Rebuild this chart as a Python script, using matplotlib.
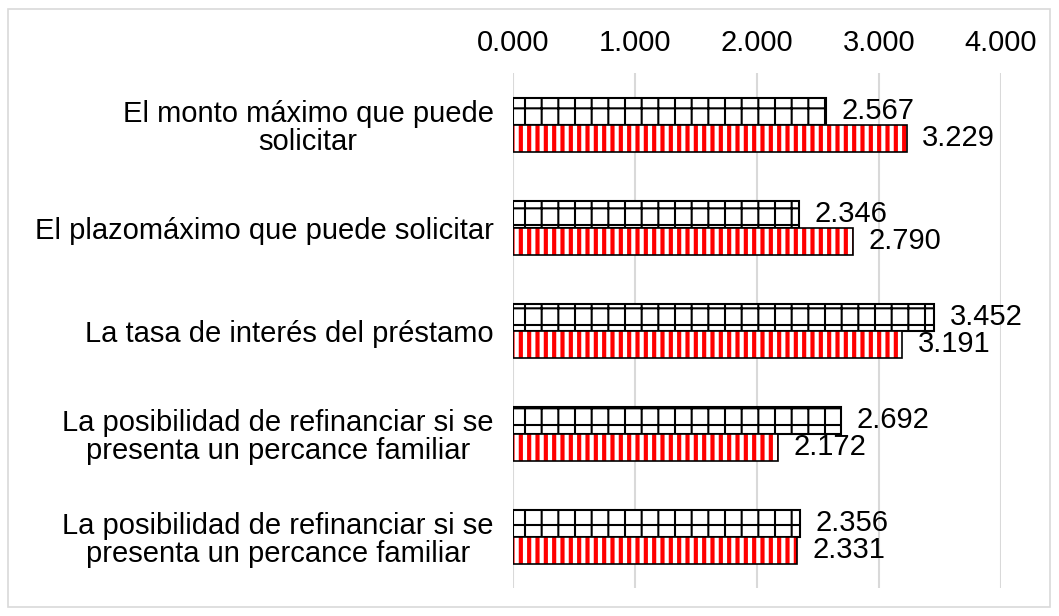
import numpy as np
import matplotlib.pyplot as plt
from matplotlib.patches import Rectangle

plt.rcParams['font.family'] = ['Liberation Sans', 'DejaVu Sans']
plt.rcParams['hatch.linewidth'] = 1.5

# data
categories = [
    "El monto máximo que puede\nsolicitar",
    "El plazomáximo que puede solicitar",
    "La tasa de interés del préstamo",
    "La posibilidad de refinanciar si se\npresenta un percance familiar",
    "La posibilidad de refinanciar si se\npresenta un percance familiar",
]
serie_a = [2.567, 2.346, 3.452, 2.692, 2.356]   # black grid bars
serie_b = [3.229, 2.790, 3.191, 2.172, 2.331]   # red striped bars
xticks = [0, 1, 2, 3, 4]

fig = plt.figure(figsize=(10.59, 6.16), dpi=100)
ax = fig.add_axes([0.4844, 0.045, 0.4608, 0.836])

y = np.arange(len(categories))
h = 0.26
fs = 21

# black grid bars
ax.barh(y - h / 2, serie_a, height=h, color='white', edgecolor='black',
        hatch='+', linewidth=1.5, zorder=3)
# red striped bars: stripes first, then the black outline
with plt.rc_context({'hatch.linewidth': 3.0}):
    red = ax.barh(y + h / 2, serie_b, height=h, color='white', edgecolor='red',
                  hatch='||', linewidth=0, zorder=3)
for p in red:
    if hasattr(p, 'set_hatch_linewidth'):
        p.set_hatch_linewidth(3.0)
ax.barh(y + h / 2, serie_b, height=h, fill=False, edgecolor='black',
        linewidth=1.2, zorder=4)

for yi, v in zip(y, serie_a):
    ax.annotate(f"{v:.3f}", (v, yi - h / 2), xytext=(11, 0), textcoords='offset points',
                va='center', ha='left', fontsize=fs)
for yi, v in zip(y, serie_b):
    ax.annotate(f"{v:.3f}", (v, yi + h / 2), xytext=(11, 0), textcoords='offset points',
                va='center', ha='left', fontsize=fs)

ax.set_xlim(0, 4)
ax.set_ylim(len(categories) - 0.5, -0.5)
ax.set_xticks(xticks)
ax.set_xticklabels([f"{t:.3f}" for t in xticks], fontsize=fs)
ax.xaxis.tick_top()
ax.tick_params(axis='x', length=0, pad=12)
ax.set_yticks(y)
ax.set_yticklabels(categories, fontsize=fs, multialignment='center', linespacing=1.0)
ax.tick_params(axis='y', length=0, pad=14)
ax.grid(axis='x', color='#d9d9d9', linewidth=1.5, zorder=0)
for s in ax.spines.values():
    s.set_visible(False)

# outer chart border
fig.patches.append(Rectangle((8 / 1059, 9 / 616), 1042 / 1059, 598 / 616,
                             transform=fig.transFigure, fill=False,
                             edgecolor='#d9d9d9', linewidth=1.2))

fig.savefig('out.png', dpi=100)
